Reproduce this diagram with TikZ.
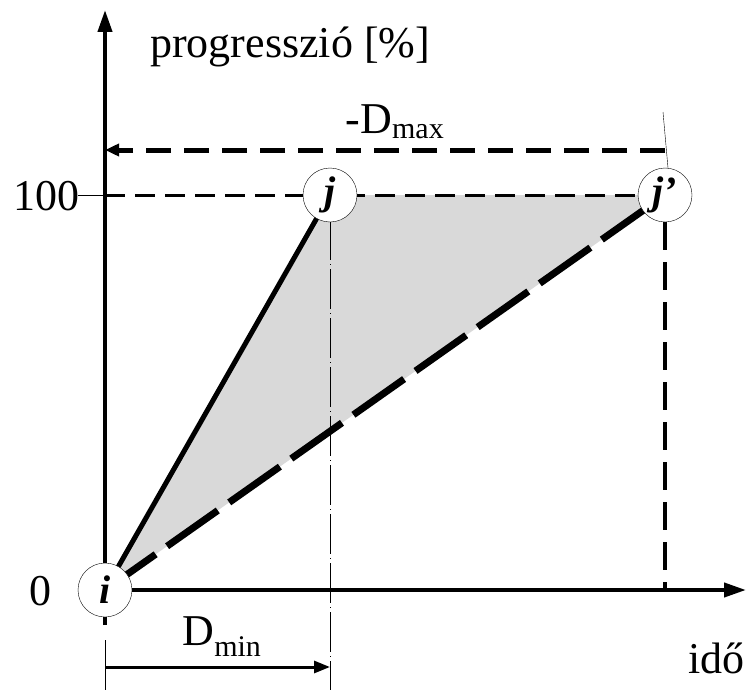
\documentclass[tikz,border=0pt]{standalone}
\usepackage{fontspec}
\setmainfont{Liberation Serif}
\usetikzlibrary{arrows.meta}
\tikzset{
  evt/.style={circle,draw,thin,fill=white,minimum size=54pt,inner sep=0pt,
    font=\fontsize{40}{40}\selectfont\bfseries\itshape},
  lbl/.style={font=\fontsize{44}{48}\selectfont,inner sep=0pt},
  axisline/.style={line width=4pt},
}
\begin{document}
\begin{tikzpicture}[x=1pt,y=-1pt]
\useasboundingbox (0,0) rectangle (747,693);
% coordinates
\coordinate (O) at (105,590);
\coordinate (ytop) at (105,10);
\coordinate (ybot) at (105,625);
\coordinate (xend) at (746,590);
\coordinate (t100) at (78,195);
\coordinate (y100) at (105,195);
\coordinate (dmaxL) at (105,150);
\coordinate (dmaxR) at (665,150);
\coordinate (thinTop) at (663,112);
\coordinate (jbot) at (330,690);
\coordinate (jpx) at (665,590);
\coordinate (dminL) at (105,667);
\coordinate (dminR) at (330,667);
\coordinate (extT) at (105,640);
\coordinate (extB) at (105,690);
% gray triangle
\fill[gray!30] (105,590) -- (330,195) -- (665,195) -- cycle;
% axes
\draw[axisline,-{Triangle[length=22pt,width=14pt]}] (ybot) -- (ytop);
\draw[axisline,-{Triangle[length=22pt,width=14pt]}] (O) -- (xend);
% 100 tick
\draw[thin] (t100) -- (y100);
% dashed 100 line
\draw[line width=3pt,dash pattern=on 20pt off 10pt] (y100) -- (640,195);
% -Dmax arrow
\draw[line width=5pt,dash pattern=on 25pt off 13pt,-{Triangle[length=14pt,width=12pt]}] (dmaxR) -- (dmaxL);
% dash-dot from j
\draw[thin,dash pattern=on 40pt off 4pt on 1pt off 4pt] (330,220) -- (jbot);
% dashed vertical from j'
\draw[line width=4pt,dash pattern=on 28pt off 12pt] (665,222) -- (jpx);
% D_min arrow
\draw[thin] (extT) -- (extB);
\draw[line width=3pt,-{Triangle[length=16pt,width=12pt]}] (dminL) -- (dminR);
% lines i-j, i-j'
\draw[line width=5pt] (105,590) -- (330,195);
\draw[line width=7pt,dash pattern=on 62pt off 14pt] (105,590) -- (665,195);
% thin slanted
\draw[thin] (thinTop) -- (668,168);
% nodes
\node[evt] (i) at (105,590) {i};
\node[evt] (j) at (330,195) {j};
\node[evt] (jp) at (665,195) {j’};
% labels
\node[lbl,anchor=base west] (prog) at (150,58) {progresszió [\%]};
\node[lbl,anchor=base] (dmax) at (395,133) {-D\textsubscript{\fontsize{30}{30}\selectfont max}};
\node[lbl,anchor=base east] (h100) at (80,210) {100};
\node[lbl,anchor=base] (zero) at (40,605) {0};
\node[lbl,anchor=base] (dmin) at (222,645) {D\textsubscript{\fontsize{30}{30}\selectfont min}};
\node[lbl,anchor=base east] (ido) at (745,673) {idő};
\end{tikzpicture}
\end{document}
